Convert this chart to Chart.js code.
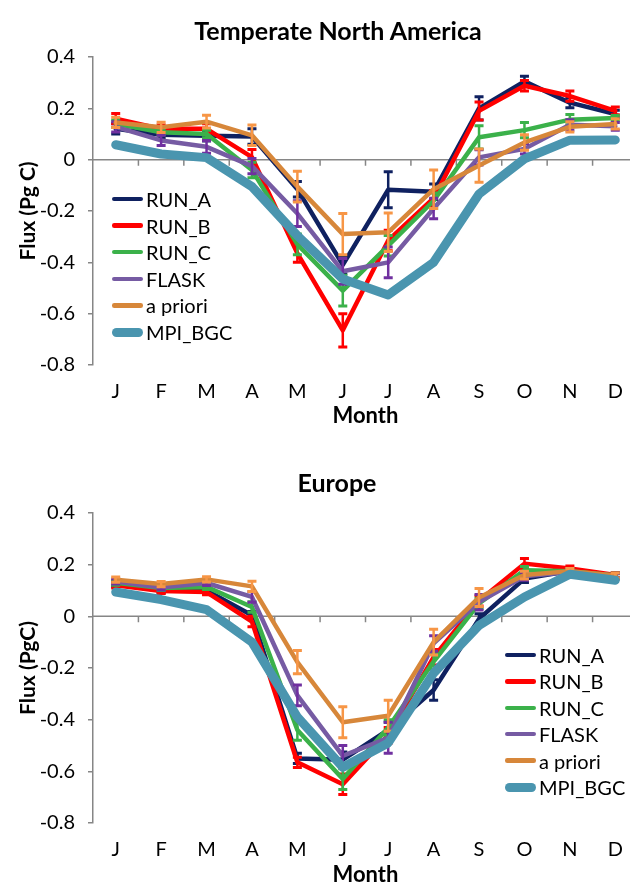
<!DOCTYPE html>
<html><head><meta charset="utf-8">
<script src="https://cdn.jsdelivr.net/npm/chart.js@4/dist/chart.umd.min.js"></script>
<style>
html,body{margin:0;padding:0;background:#fff;overflow:hidden;width:630px;height:885px;}
#wrap{position:relative;width:630px;height:885px;overflow:hidden;font-family:Lato,'Open Sans',sans-serif;}
canvas{position:absolute;left:0;}
.ttl{position:absolute;font-weight:bold;font-size:25px;color:#000;white-space:nowrap;transform:translate(-50%,-50%);line-height:1;}
.legend{position:absolute;font-size:20px;color:#000;}
.item{position:absolute;left:0;height:0;white-space:nowrap;}
.sw{position:absolute;left:0;width:31px;}
.tx{position:absolute;left:34px;top:0;transform:translateY(-52%);line-height:1;}
</style></head>
<body><div id="wrap">
<canvas id="c1" width="676" height="440" style="top:0"></canvas>
<canvas id="c2" width="676" height="460" style="top:440px"></canvas>
<div class="ttl" id="t1" style="left:338px;top:30px"></div>
<div class="ttl" id="t2" style="left:337px;top:482px"></div>
<div class="legend" id="lg1" style="left:112px;top:199px"></div>
<div class="legend" id="lg2" style="left:505px;top:655px"></div>
</div>
<script>
// ---- data ----
const months = ['J','F','M','A','M','J','J','A','S','O','N','D'];
const seriesNames = ['RUN_A','RUN_B','RUN_C','FLASK','a priori','MPI_BGC'];
const yTicks = [0.4, 0.2, 0, -0.2, -0.4, -0.6, -0.8];

const titleNA = 'Temperate North America';
const yTitleNA = 'Flux (Pg C)';
const naRunA  = [0.12, 0.097, 0.093, 0.09, -0.115, -0.41, -0.117, -0.125, 0.20, 0.305, 0.222, 0.178];
const naRunB  = [0.16, 0.12, 0.12, 0.01, -0.365, -0.665, -0.315, -0.15, 0.19, 0.288, 0.248, 0.19];
const naRunC  = [0.14, 0.107, 0.10, -0.04, -0.33, -0.51, -0.335, -0.16, 0.087, 0.115, 0.156, 0.162];
const naFlask = [0.128, 0.075, 0.05, -0.025, -0.21, -0.435, -0.40, -0.19, 0.009, 0.042, 0.136, 0.13];
const naPrior = [0.145, 0.126, 0.148, 0.095, -0.105, -0.29, -0.283, -0.115, -0.023, 0.067, 0.128, 0.139];
const naMpi   = [0.058, 0.022, 0.008, -0.105, -0.296, -0.465, -0.527, -0.40, -0.134, 0.003, 0.076, 0.077];
const naRunAErr  = [0.02, 0.015, 0.02, 0.03, 0.03, 0.035, 0.07, 0.03, 0.045, 0.02, 0.02, 0.015];
const naRunBErr  = [0.02, 0.015, 0.02, 0.03, 0.035, 0.065, 0.04, 0.03, 0.035, 0.02, 0.02, 0.015];
const naRunCErr  = [0.015, 0.01, 0.015, 0.03, 0.04, 0.06, 0.04, 0.03, 0.045, 0.03, 0.02, 0.01];
const naFlaskErr = [0.02, 0.02, 0.025, 0.03, 0.05, 0.05, 0.06, 0.04, 0.03, 0.02, 0.02, 0.015];
const naPriorErr = [0.02, 0.02, 0.025, 0.04, 0.06, 0.08, 0.075, 0.075, 0.065, 0.03, 0.02, 0.02];

const titleEU = 'Europe';
const yTitleEU = 'Flux (PgC)';
const euRunA  = [0.125, 0.10, 0.10, 0.004, -0.55, -0.555, -0.44, -0.285, -0.01, 0.146, 0.175, 0.155];
const euRunB  = [0.12, 0.098, 0.094, -0.02, -0.565, -0.65, -0.46, -0.158, 0.06, 0.204, 0.185, 0.16];
const euRunC  = [0.13, 0.11, 0.114, 0.036, -0.44, -0.63, -0.43, -0.175, 0.05, 0.178, 0.175, 0.158];
const euFlask = [0.135, 0.112, 0.129, 0.075, -0.306, -0.54, -0.47, -0.105, 0.055, 0.155, 0.172, 0.157];
const euPrior = [0.142, 0.125, 0.143, 0.116, -0.177, -0.41, -0.385, -0.10, 0.073, 0.16, 0.175, 0.158];
const euMpi   = [0.094, 0.065, 0.026, -0.10, -0.39, -0.584, -0.49, -0.22, -0.035, 0.075, 0.163, 0.14];
const euRunAErr  = [0.01, 0.01, 0.01, 0.015, 0.02, 0.03, 0.03, 0.04, 0.02, 0.015, 0.01, 0.01];
const euRunBErr  = [0.01, 0.01, 0.01, 0.02, 0.02, 0.04, 0.03, 0.03, 0.02, 0.02, 0.01, 0.01];
const euRunCErr  = [0.01, 0.01, 0.01, 0.02, 0.04, 0.04, 0.03, 0.03, 0.02, 0.015, 0.01, 0.01];
const euFlaskErr = [0.01, 0.01, 0.01, 0.02, 0.04, 0.04, 0.06, 0.03, 0.03, 0.015, 0.01, 0.01];
const euPriorErr = [0.01, 0.01, 0.01, 0.02, 0.045, 0.06, 0.06, 0.05, 0.035, 0.015, 0.01, 0.01];

// ---- styles ----
const lineColors = ['#0f2160', '#ff0000', '#3bb14a', '#765ba3', '#d7873a', '#4a95af'];
const errColors  = ['#0f2160', '#ff0000', '#3bb14a', '#7030a0', '#f79646', null];
const lineWidths = [4.5, 4.5, 4.5, 4.5, 4.5, 9];
const axisGray = '#868686';
const FONT = "Lato, 'Open Sans', sans-serif";

Chart.defaults.font.family = FONT;
Chart.defaults.color = '#000';

const errorBarPlugin = {
  id: 'errorBars',
  afterDatasetDraw(chart, args) {
    const ds = chart.data.datasets[args.index];
    if (!ds.errors || !ds.errColor) return;
    const meta = args.meta;
    const y = chart.scales.y;
    const ctx = chart.ctx;
    ctx.save();
    ctx.strokeStyle = ds.errColor;
    ctx.lineCap = 'butt';
    meta.data.forEach((pt, i) => {
      const v = ds.data[i], e = ds.errors[i];
      const yTop = y.getPixelForValue(v + e), yBot = y.getPixelForValue(v - e);
      const x = pt.x;
      ctx.lineWidth = 2.5;
      ctx.beginPath(); ctx.moveTo(x, yTop); ctx.lineTo(x, yBot); ctx.stroke();
      ctx.lineWidth = 3;
      ctx.beginPath();
      ctx.moveTo(x - 4.5, yTop); ctx.lineTo(x + 4.5, yTop);
      ctx.moveTo(x - 4.5, yBot); ctx.lineTo(x + 4.5, yBot);
      ctx.stroke();
    });
    ctx.restore();
  }
};

const zeroAxisPlugin = {
  id: 'zeroAxis',
  beforeDatasetsDraw(chart) {
    const {ctx, chartArea, scales: {x, y}} = chart;
    const y0 = y.getPixelForValue(0);
    ctx.save();
    ctx.strokeStyle = axisGray;
    ctx.lineWidth = 1.5;
    ctx.beginPath();
    ctx.moveTo(chartArea.left, y0); ctx.lineTo(chartArea.right, y0);
    const n = chart.data.labels.length;
    for (let i = 0; i < n; i++) {
      const bx = i < n - 1 ? (x.getPixelForValue(i) + x.getPixelForValue(i + 1)) / 2 : chartArea.right;
      ctx.moveTo(bx, y0); ctx.lineTo(bx, y0 + 6);
    }
    ctx.stroke();
    ctx.restore();
  }
};

function makeChart(id, yTitle, series, errs, geo) {
  const order = [5, 4, 3, 2, 1, 0];
  const datasets = series.map((d, i) => ({
    label: seriesNames[i],
    data: d,
    errors: errs[i] || null,
    errColor: errColors[i],
    borderColor: lineColors[i],
    backgroundColor: lineColors[i],
    borderWidth: lineWidths[i],
    borderCapStyle: 'round',
    borderJoinStyle: 'round',
    pointRadius: 0,
    tension: 0,
    fill: false,
    order: order[i]
  }));
  return new Chart(document.getElementById(id), {
    type: 'line',
    data: { labels: months, datasets },
    plugins: [zeroAxisPlugin, errorBarPlugin],
    options: {
      responsive: false,
      animation: false,
      devicePixelRatio: 1,
      layout: { padding: { top: geo.top, right: 38, left: 0, bottom: 0 } },
      plugins: { legend: { display: false }, tooltip: { enabled: false }, title: { display: false } },
      scales: {
        x: {
          type: 'category',
          offset: true,
          grid: { display: false, drawTicks: false },
          border: { display: false },
          ticks: { padding: 15, font: { size: 20 }, color: '#000', maxRotation: 0, autoSkip: false },
          title: { display: true, text: 'Month', font: { size: 22, weight: 'bold' }, color: '#000',
                   padding: { top: 0, bottom: geo.monthPad } },
          afterFit(s) { s.height = geo.xh; }
        },
        y: {
          min: -0.8, max: 0.4,
          afterBuildTicks(s) { s.ticks = yTicks.map(v => ({ value: v })); },
          grid: { drawOnChartArea: false, drawTicks: true, tickLength: 5, color: axisGray, lineWidth: 1.5 },
          border: { display: true, color: axisGray, width: 1.5 },
          ticks: { padding: 13, font: { size: 20 }, color: '#000',
                   callback: v => Math.abs(v) < 1e-9 ? '0' : String(Math.round(v * 10) / 10) },
          title: { display: true, text: yTitle, font: { size: 21, weight: 'bold' }, color: '#000',
                   padding: { top: 15.4, bottom: 0 } },
          afterFit(s) { s.width = 93; }
        }
      }
    }
  });
}

makeChart('c1', yTitleNA, [naRunA, naRunB, naRunC, naFlask, naPrior, naMpi],
  [naRunAErr, naRunBErr, naRunCErr, naFlaskErr, naPriorErr, null],
  { top: 57, xh: 75, monthPad: 10.8 });
makeChart('c2', yTitleEU, [euRunA, euRunB, euRunC, euFlask, euPrior, euMpi],
  [euRunAErr, euRunBErr, euRunCErr, euFlaskErr, euPriorErr, null],
  { top: 73, xh: 77, monthPad: 11.8 });

document.getElementById('t1').textContent = titleNA;
document.getElementById('t2').textContent = titleEU;

function buildLegend(id, spacing) {
  const el = document.getElementById(id);
  seriesNames.forEach((name, i) => {
    const it = document.createElement('div');
    it.className = 'item';
    it.style.top = (i * spacing) + 'px';
    const sw = document.createElement('span');
    sw.className = 'sw';
    const h = lineWidths[i];
    sw.style.height = h + 'px';
    sw.style.top = (-h / 2) + 'px';
    sw.style.borderRadius = (h / 2) + 'px';
    sw.style.background = lineColors[i];
    const tx = document.createElement('span');
    tx.className = 'tx';
    tx.textContent = name;
    it.appendChild(sw); it.appendChild(tx);
    el.appendChild(it);
  });
}
buildLegend('lg1', 26.6);
buildLegend('lg2', 26.4);
</script>
</body></html>
